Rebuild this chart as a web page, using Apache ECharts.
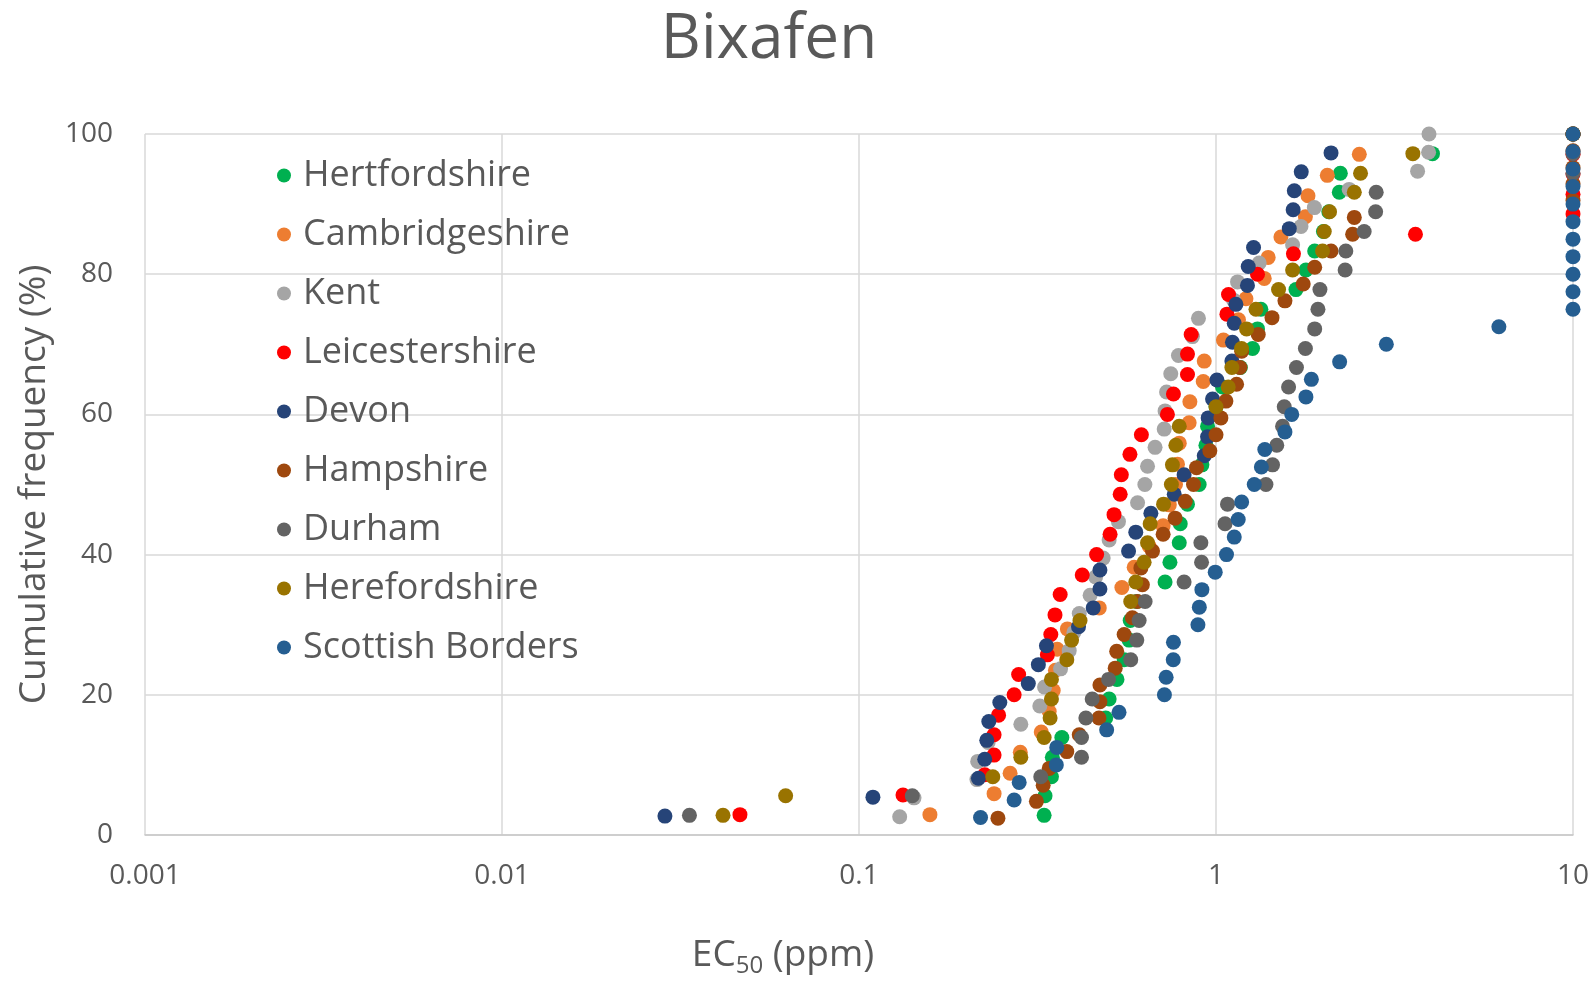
<!DOCTYPE html>
<html>
<head>
<meta charset="utf-8">
<script src="https://cdn.jsdelivr.net/npm/echarts@6/dist/echarts.min.js"></script>
<style>
html,body{margin:0;padding:0;background:#fff;}
#chart{width:1594px;height:981px;}
</style>
</head>
<body>
<div id="chart"></div>
<script>
// ---- Data (EC50 in ppm, cumulative frequency in %) ----
const seriesNames = ["Hertfordshire","Cambridgeshire","Kent","Leicestershire","Devon","Hampshire","Durham","Herefordshire","Scottish Borders"];
const seriesColors = ["#00B050","#ED7D31","#A5A5A5","#FF0000","#264478","#9E480E","#636363","#997300","#255E91"];

const hertsX = [0.330,0.332,0.346,0.348,0.370,0.491,0.502,0.528,0.553,0.571,0.575,0.60,0.72,0.743,0.789,0.794,0.832,0.897,0.913,0.937,0.947,1.0,1.043,1.17,1.266,1.307,1.336,1.675,1.786,1.89,2.0,2.07,2.215,2.23,4.04,10];
const hertsY = [2.8,5.6,8.3,11.1,13.9,16.7,19.4,22.2,25,27.8,30.6,33.3,36.1,38.9,41.7,44.4,47.2,50,52.8,55.6,58.3,61.1,63.9,66.7,69.4,72.2,75,77.8,80.6,83.3,86.1,88.9,91.7,94.4,97.2,100];

const cambsX = [0.158,0.239,0.265,0.283,0.324,0.341,0.35,0.355,0.359,0.3835,0.471,0.545,0.59,0.65,0.711,0.74,0.77,0.78,0.789,0.841,0.845,0.921,0.927,1.049,1.156,1.213,1.365,1.40,1.52,1.78,1.81,2.05,2.52,10];
const cambsY = [2.9,5.9,8.8,11.8,14.7,17.6,20.6,23.5,26.5,29.4,32.4,35.3,38.2,41.2,44.1,47.1,50,52.9,55.9,58.8,61.8,64.7,67.6,70.6,73.5,76.5,79.4,82.4,85.3,88.2,91.2,94.1,97.1,100];

const kentX = [0.130,0.1426,0.214,0.215,0.23,0.284,0.321,0.331,0.367,0.388,0.40,0.414,0.444,0.46,0.483,0.502,0.533,0.603,0.632,0.643,0.675,0.716,0.72,0.727,0.747,0.785,0.859,0.893,1.12,1.149,1.321,1.639,1.73,1.886,2.36,3.67,3.94,3.95];
const kentY = [2.6,5.3,7.9,10.5,13.2,15.8,18.4,21.1,23.7,26.3,28.9,31.6,34.2,36.8,39.5,42.1,44.7,47.4,50,52.6,55.3,57.9,60.5,63.2,65.8,68.4,71.1,73.7,76.3,78.9,81.6,84.2,86.8,89.5,92.1,94.7,97.4,100];

const leicsX = [0.0464,0.1328,0.225,0.239,0.239,0.246,0.272,0.28,0.337,0.3446,0.354,0.366,0.422,0.463,0.505,0.518,0.539,0.543,0.574,0.618,0.731,0.760,0.832,0.832,0.852,1.073,1.084,1.307,1.648,3.62,10,10,10,10,10];
const leicsY = [2.9,5.7,8.6,11.4,14.3,17.1,20,22.9,25.7,28.6,31.4,34.3,37.1,40,42.9,45.7,48.6,51.4,54.3,57.1,60,62.9,65.7,68.6,71.4,74.3,77.1,80,82.9,85.7,88.6,91.4,94.3,97.1,100];

const devonX = [0.0286,0.1094,0.216,0.225,0.228,0.231,0.248,0.298,0.318,0.335,0.412,0.453,0.473,0.473,0.569,0.596,0.657,0.764,0.814,0.927,0.947,0.951,0.978,1.006,1.108,1.112,1.125,1.137,1.225,1.231,1.274,1.604,1.645,1.657,1.733,2.10,10];
const devonY = [2.7,5.4,8.1,10.8,13.5,16.2,18.9,21.6,24.3,27,29.7,32.4,35.1,37.8,40.5,43.2,45.9,48.6,51.4,54.1,56.8,59.5,62.2,64.9,67.6,70.3,73,75.7,78.4,81.1,83.8,86.5,89.2,91.9,94.6,97.3,100];

const hantsX = [0.245,0.314,0.328,0.341,0.382,0.414,0.47,0.473,0.473,0.522,0.527,0.553,0.583,0.602,0.622,0.616,0.664,0.711,0.768,0.82,0.865,0.882,0.961,1.0,1.032,1.066,1.142,1.167,1.18,1.313,1.435,1.56,1.755,1.89,2.10,2.414,2.44,10,10,10,10,10];
const hantsY = [2.4,4.8,7.1,9.5,11.9,14.3,16.7,19,21.4,23.8,26.2,28.6,31,33.3,35.7,38.1,40.5,42.9,45.2,47.6,50,52.4,54.8,57.1,59.5,61.9,64.3,66.7,69,71.4,73.8,76.2,78.6,81,83.3,85.7,88.1,90.5,92.9,95.2,97.6,100];

const durhamX = [0.0335,0.141,0.323,0.42,0.42,0.432,0.45,0.50,0.577,0.60,0.609,0.633,0.814,0.911,0.907,1.06,1.077,1.38,1.44,1.48,1.536,1.553,1.597,1.68,1.78,1.89,1.93,1.955,2.30,2.31,2.60,2.80,2.81,10,10,10];
const durhamY = [2.8,5.6,8.3,11.1,13.9,16.7,19.4,22.2,25,27.8,30.6,33.3,36.1,38.9,41.7,44.4,47.2,50,52.8,55.6,58.3,61.1,63.9,66.7,69.4,72.2,75,77.8,80.6,83.3,86.1,88.9,91.7,94.4,97.2,100];

const herefX = [0.0416,0.0623,0.237,0.284,0.330,0.343,0.346,0.346,0.382,0.394,0.416,0.577,0.596,0.629,0.643,0.654,0.713,0.75,0.755,0.772,0.789,1.0,1.082,1.108,1.179,1.218,1.294,1.497,1.639,1.988,2.01,2.08,2.44,2.54,3.56,10];
const herefY = [2.8,5.6,8.3,11.1,13.9,16.7,19.4,22.2,25,27.8,30.6,33.3,36.1,38.9,41.7,44.4,47.2,50,52.8,55.6,58.3,61.1,63.9,66.7,69.4,72.2,75,77.8,80.6,83.3,86.1,88.9,91.7,94.4,97.2,100];

const scotX = [0.219,0.272,0.281,0.357,0.358,0.494,0.535,0.717,0.725,0.759,0.76,0.89,0.898,0.913,0.995,1.07,1.125,1.154,1.18,1.28,1.34,1.37,1.56,1.63,1.786,1.85,2.22,3.0,6.2,10,10,10,10,10,10,10,10,10,10,10];
const scotY = [2.5,5,7.5,10,12.5,15,17.5,20,22.5,25,27.5,30,32.5,35,37.5,40,42.5,45,47.5,50,52.5,55,57.5,60,62.5,65,67.5,70,72.5,75,77.5,80,82.5,85,87.5,90,92.5,95,97.5,100];

const xTicks = [0.001,0.01,0.1,1,10];
const yTicks = [0,20,40,60,80,100];

const allX = [hertsX,cambsX,kentX,leicsX,devonX,hantsX,durhamX,herefX,scotX];
const allY = [hertsY,cambsY,kentY,leicsY,devonY,hantsY,durhamY,herefY,scotY];

const FONT = "'Open Sans', 'Noto Sans', 'Liberation Sans', sans-serif";
const GREY = "#595959";

const chart = echarts.init(document.getElementById('chart'), null, {renderer:'canvas'});

const series = seriesNames.map((name,i)=>({
  name: name,
  type: 'scatter',
  symbol: 'circle',
  symbolSize: 15,
  itemStyle: {color: seriesColors[i], opacity: 1},
  data: allX[i].map((x,j)=>[x, allY[i][j]]),
  z: 2 + i
}));

chart.setOption({
  animation: false,
  backgroundColor: '#ffffff',
  grid: {left: 145, right: 21, top: 134, bottom: 146, containLabel: false},
  graphic: [
    {type:'text', x: 769, y: 40, style:{text:'Bixafen', font: "62px " + FONT, fill: GREY, textAlign:'center', textVerticalAlign:'middle'}},
    {type:'text', x: 783, y: 955, style:{
      text: '{a|EC}{s|50}{a| (ppm)}',
      textAlign:'center', textVerticalAlign:'middle',
      rich: {
        a: {fontFamily: FONT, fontSize: 37, fill: GREY, color: GREY},
        s: {fontFamily: FONT, fontSize: 24, fill: GREY, color: GREY, padding:[22,0,0,0]}
      }
    }}
  ],
  legend: {
    orient: 'vertical',
    left: 272, top: 150,
    itemWidth: 14, itemHeight: 14,
    itemGap: 18,
    icon: 'circle',
    textStyle: {fontFamily: FONT, fontSize: 36, color: GREY, lineHeight: 41, padding:[0,0,0,7]},
    data: seriesNames
  },
  xAxis: {
    type: 'log',
    logBase: 10,
    min: xTicks[0],
    max: xTicks[xTicks.length-1],
    axisLine: {show: true, lineStyle: {color: '#c8c8c8', width: 1.5}},
    axisTick: {show: false},
    splitLine: {show: true, lineStyle: {color: '#d9d9d9', width: 1.5}},
    minorSplitLine: {show: false},
    axisLabel: {
      fontFamily: FONT, fontSize: 28, color: GREY, margin: 27,
      formatter: function(v){ return String(parseFloat(Number(v).toPrecision(3))); },
      showMinLabel: true, showMaxLabel: true
    }
  },
  yAxis: {
    type: 'value',
    min: yTicks[0],
    max: yTicks[yTicks.length-1],
    interval: 20,
    name: 'Cumulative frequency (%)',
    nameLocation: 'middle',
    nameGap: 92,
    nameTextStyle: {fontFamily: FONT, fontSize: 37, color: GREY},
    axisLine: {show: false},
    axisTick: {show: false},
    splitLine: {show: true, lineStyle: {color: '#d9d9d9', width: 1.5}},
    axisLabel: {fontFamily: FONT, fontSize: 28, color: GREY, margin: 32}
  },
  series: series
});
</script>
</body>
</html>
